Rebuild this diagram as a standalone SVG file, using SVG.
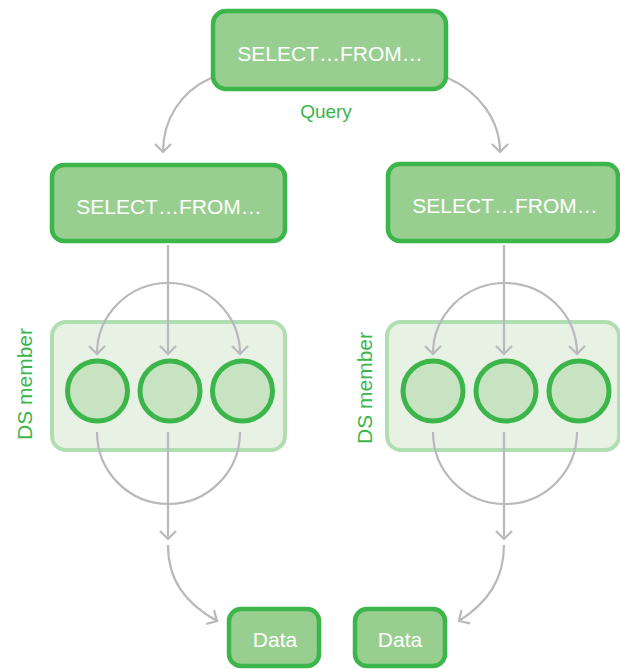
<svg xmlns="http://www.w3.org/2000/svg" width="620" height="669" viewBox="0 0 620 669">
  <defs>
    <marker id="chev" markerUnits="userSpaceOnUse" viewBox="-12 -12 24 24" markerWidth="24" markerHeight="24" refX="0" refY="0" orient="auto">
      <path d="M-8,-8 L0,0 L-8,8" fill="none" stroke="#b9b9bd" stroke-width="2.2"/>
    </marker>
  </defs>
  <style>
    .box { fill: #99ce91; stroke: #3cb54a; stroke-width: 4.5; }
    .boxtxt { fill: #ffffff; font-family: "Liberation Sans", Arial, sans-serif; font-size: 21px; text-anchor: middle; }
    .member { fill: #e7f2e4; stroke: #b0deb0; stroke-width: 4; }
    .node { fill: #c7e3c1; stroke: #3cb54a; stroke-width: 5; }
    .label { fill: #3cb54a; font-family: "Liberation Sans", Arial, sans-serif; font-size: 19px; text-anchor: middle; }
    .side { font-size: 21px; }
    .wire { fill: none; stroke: #b9b9bd; stroke-width: 2.2; }
    .arrow { marker-end: url(#chev); }
  </style>

  <rect width="620" height="669" fill="#ffffff"/>

  <!-- DS member containers -->
  <g id="member-left">
    <rect class="member" x="52" y="322" width="233" height="128" rx="14"/>
    <text class="label side" transform="translate(32,384) rotate(-90)">DS member</text>
  </g>
  <g id="member-right">
    <rect class="member" x="387" y="322" width="232" height="128" rx="14"/>
    <text class="label side" transform="translate(372,388) rotate(-90)">DS member</text>
  </g>

  <!-- connectors -->
  <g id="connectors">
    <path class="wire arrow" d="M211,78 C180,92 163,120 163,152"/>
    <path class="wire arrow" d="M448,78 C479,92 500,120 500,152"/>

    <path class="wire arrow" d="M168,245 L168,354"/>
    <path class="wire arrow" d="M168,283 A71,71 0 0 0 97,354"/>
    <path class="wire arrow" d="M168,283 A72,71 0 0 1 240,354"/>
    <path class="wire arrow" d="M504,245 L504,354"/>
    <path class="wire arrow" d="M505,283 A72,71 0 0 0 433,354"/>
    <path class="wire arrow" d="M505,283 A72,71 0 0 1 577,354"/>

    <path class="wire" d="M97,432 A71.5,72 0 0 0 240,432"/>
    <path class="wire arrow" d="M168,432 L168,539"/>
    <path class="wire" d="M433,432 A72,72 0 0 0 577,432"/>
    <path class="wire arrow" d="M504,432 L504,539"/>

    <path class="wire arrow" d="M168,545 C168,580 185,603 217,621"/>
    <path class="wire arrow" d="M504,545 C504,580 487,603 459,621"/>
  </g>

  <!-- query node -->
  <g id="query">
    <rect class="box" x="213" y="11" width="233" height="78" rx="13"/>
    <text class="boxtxt" x="330" y="61">SELECT…FROM…</text>
    <text class="label" x="326" y="118">Query</text>
  </g>

  <!-- shard queries -->
  <g id="shard-left">
    <rect class="box" x="52" y="165" width="233" height="76" rx="12"/>
    <text class="boxtxt" x="169" y="214">SELECT…FROM…</text>
  </g>
  <g id="shard-right">
    <rect class="box" x="388" y="164" width="230" height="77" rx="12"/>
    <text class="boxtxt" x="505" y="213">SELECT…FROM…</text>
  </g>

  <!-- member nodes -->
  <g id="node-l1"><circle class="node" cx="97.5" cy="391" r="30"/></g>
  <g id="node-l2"><circle class="node" cx="170" cy="391" r="30"/></g>
  <g id="node-l3"><circle class="node" cx="242.5" cy="391" r="30"/></g>
  <g id="node-r1"><circle class="node" cx="433" cy="391" r="30"/></g>
  <g id="node-r2"><circle class="node" cx="506" cy="391" r="30"/></g>
  <g id="node-r3"><circle class="node" cx="579" cy="391" r="30"/></g>

  <!-- results -->
  <g id="data-left">
    <rect class="box" x="229" y="609" width="90" height="57" rx="12"/>
    <text class="boxtxt" x="275" y="647">Data</text>
  </g>
  <g id="data-right">
    <rect class="box" x="355" y="609" width="90" height="57" rx="12"/>
    <text class="boxtxt" x="400" y="647">Data</text>
  </g>
</svg>
